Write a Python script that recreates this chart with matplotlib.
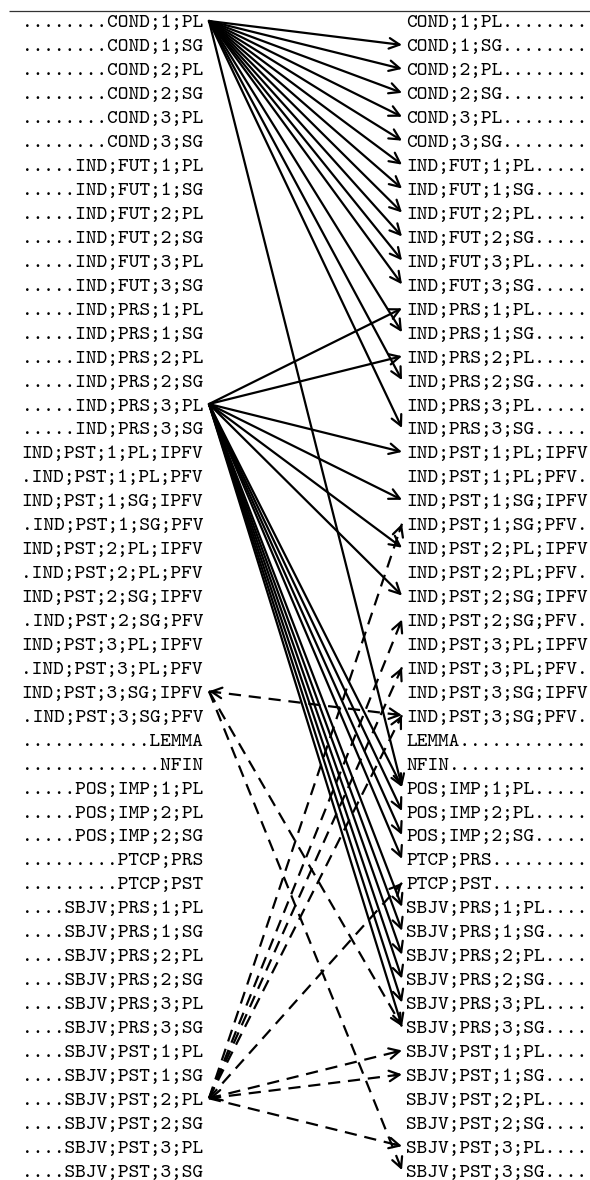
import numpy as np
import matplotlib.pyplot as plt

# paradigm cells, same order on both sides
cells = ['COND;1;PL', 'COND;1;SG', 'COND;2;PL', 'COND;2;SG', 'COND;3;PL', 'COND;3;SG',
         'IND;FUT;1;PL', 'IND;FUT;1;SG', 'IND;FUT;2;PL', 'IND;FUT;2;SG', 'IND;FUT;3;PL', 'IND;FUT;3;SG',
         'IND;PRS;1;PL', 'IND;PRS;1;SG', 'IND;PRS;2;PL', 'IND;PRS;2;SG', 'IND;PRS;3;PL', 'IND;PRS;3;SG',
         'IND;PST;1;PL;IPFV', 'IND;PST;1;PL;PFV', 'IND;PST;1;SG;IPFV', 'IND;PST;1;SG;PFV',
         'IND;PST;2;PL;IPFV', 'IND;PST;2;PL;PFV', 'IND;PST;2;SG;IPFV', 'IND;PST;2;SG;PFV',
         'IND;PST;3;PL;IPFV', 'IND;PST;3;PL;PFV', 'IND;PST;3;SG;IPFV', 'IND;PST;3;SG;PFV',
         'LEMMA', 'NFIN', 'POS;IMP;1;PL', 'POS;IMP;2;PL', 'POS;IMP;2;SG', 'PTCP;PRS', 'PTCP;PST',
         'SBJV;PRS;1;PL', 'SBJV;PRS;1;SG', 'SBJV;PRS;2;PL', 'SBJV;PRS;2;SG', 'SBJV;PRS;3;PL', 'SBJV;PRS;3;SG',
         'SBJV;PST;1;PL', 'SBJV;PST;1;SG', 'SBJV;PST;2;PL', 'SBJV;PST;2;SG', 'SBJV;PST;3;PL', 'SBJV;PST;3;SG']

# solid arrows (source -> targets)
from_cond = ['COND;1;SG', 'COND;2;PL', 'COND;2;SG', 'COND;3;PL', 'COND;3;SG',
             'IND;FUT;1;PL', 'IND;FUT;1;SG', 'IND;FUT;2;PL', 'IND;FUT;2;SG', 'IND;FUT;3;PL', 'IND;FUT;3;SG',
             'IND;PRS;1;SG', 'IND;PRS;2;SG', 'IND;PRS;3;SG', 'POS;IMP;1;PL']
from_prs = ['IND;PRS;1;PL', 'IND;PRS;2;PL', 'IND;PST;1;PL;IPFV', 'IND;PST;1;SG;IPFV',
            'IND;PST;2;PL;IPFV', 'IND;PST;2;SG;IPFV', 'POS;IMP;1;PL', 'POS;IMP;2;PL', 'POS;IMP;2;SG',
            'PTCP;PRS', 'SBJV;PRS;1;PL', 'SBJV;PRS;1;SG', 'SBJV;PRS;2;PL', 'SBJV;PRS;2;SG',
            'SBJV;PRS;3;PL', 'SBJV;PRS;3;SG']
solid = {'COND;1;PL': from_cond, 'IND;PRS;3;PL': from_prs}

# dashed arrows
from_pst = ['IND;PST;3;SG;PFV', 'SBJV;PRS;3;SG', 'SBJV;PST;3;SG']
from_sbjv = ['IND;PST;1;SG;PFV', 'IND;PST;2;SG;PFV', 'IND;PST;3;PL;PFV', 'IND;PST;3;SG;PFV',
             'PTCP;PST', 'SBJV;PST;1;PL', 'SBJV;PST;1;SG', 'SBJV;PST;3;PL']
dashed = {'IND;PST;3;SG;IPFV': from_pst, 'SBJV;PST;2;PL': from_sbjv}
# dashed links that also carry a head at the left end
two_way = [('IND;PST;3;SG;IPFV', 'IND;PST;3;SG;PFV'), ('SBJV;PST;2;PL', 'SBJV;PST;1;PL')]

width = max(len(c) for c in cells)

def row_y(name):
    return 21 + cells.index(name) * 23.94

x_left, x_right = 209, 402
head_style = '->,head_length=0.75,head_width=0.38'
lw = 1.6

def arrow(ax, p0, p1):
    ax.annotate('', xy=p1, xytext=p0,
                arrowprops=dict(arrowstyle=head_style, lw=lw, color='k',
                                shrinkA=0, shrinkB=0, mutation_scale=10))

def head(ax, p0, p1):
    d = np.subtract(p1, p0, dtype=float)
    d = d / np.hypot(*d)
    arrow(ax, np.asarray(p1) - d * 8, p1)

fig = plt.figure(figsize=(5.9, 11.8), dpi=100)
ax = fig.add_axes([0, 0, 1, 1])
ax.set_xlim(0, 590)
ax.set_ylim(1180, 0)
ax.axis('off')

ax.hlines(11, 9, 590, color='#333333', lw=0.9)

for c in cells:
    y = row_y(c)
    ax.text(203, y + 6.5, '.' * (width - len(c)) + c, ha='right', va='baseline',
            fontfamily='cmtt10', fontsize=14.7)
    ax.text(406, y + 6.5, c + '.' * (width - len(c)), ha='left', va='baseline',
            fontfamily='cmtt10', fontsize=14.7)

for src, targets in solid.items():
    for t in targets:
        arrow(ax, (x_left, row_y(src)), (x_right, row_y(t)))

for src, targets in dashed.items():
    for t in targets:
        p0 = (x_left, row_y(src))
        p1 = (x_right, row_y(t))
        ax.plot([p0[0], p1[0]], [p0[1], p1[1]], color='k', lw=lw, ls=(0, (5.5, 3.5)))
        head(ax, p0, p1)
        if (src, t) in two_way:
            head(ax, p1, p0)

fig.savefig('out.png', dpi=100)
